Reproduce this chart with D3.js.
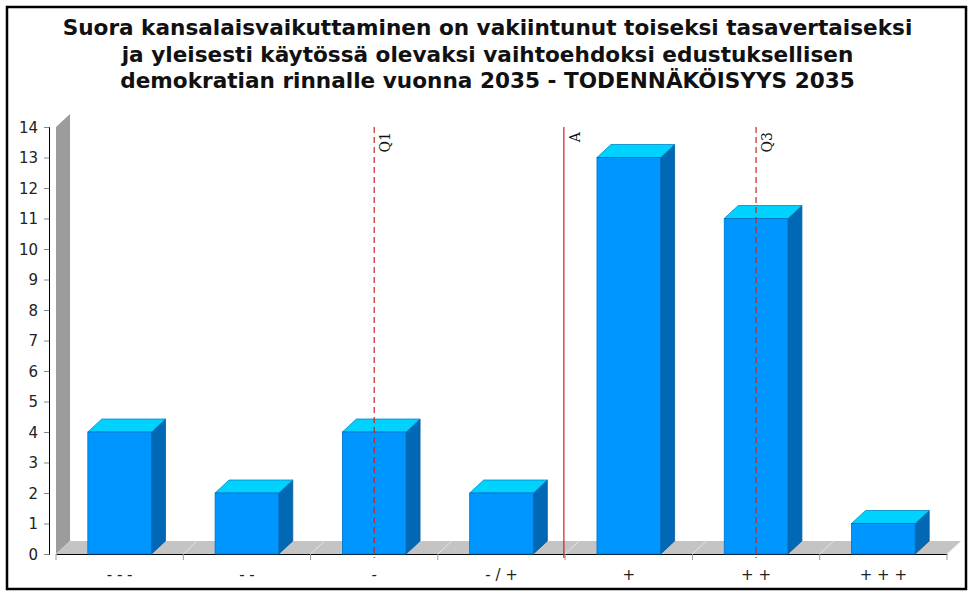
<!DOCTYPE html>
<html>
<head>
<meta charset="utf-8">
<script src="https://cdn.jsdelivr.net/npm/d3@7"></script>
<style>
  body { margin: 0; background: #fff; }
  text { font-family: "DejaVu Sans", sans-serif; }
</style>
</head>
<body>
<div id="chart"></div>
<script>
let titleLines = [
  "Suora kansalaisvaikuttaminen on vakiintunut toiseksi tasavertaiseksi",
  "ja yleisesti käytössä olevaksi vaihtoehdoksi edustuksellisen",
  "demokratian rinnalle vuonna 2035 - TODENNÄKÖISYYS 2035"
];
let categories = ["- - -", "- -", "-", "- / +", "+", "+ +", "+ + +"];
let counts = [4, 2, 4, 2, 13, 11, 1];
let yTicks = d3.range(0, 15);
let markerNames = ["Q1", "A", "Q3"];
let markerValues = [3, 4.49, 6];
let markerDashed = [true, false, true];

let width = 973, height = 597;
let plotLeft = 56, plotRight = 947, plotTop = 127, plotBottom = 554;
let dx = 14, dy = -13;

let svg = d3.select("#chart")
  .append("svg")
  .attr("width", width)
  .attr("height", height);

svg.append("rect")
  .attr("x", 7).attr("y", 7)
  .attr("width", 959).attr("height", 582)
  .style("fill", "white")
  .style("stroke", "black")
  .style("stroke-width", 2.5);

svg.append("g").selectAll("text")
  .data(titleLines)
  .join("text")
  .attr("x", width/2 + 1)
  .attr("y", (d, i) => 35 + i*26.5)
  .attr("text-anchor", "middle")
  .style("font-size", "21.6px")
  .style("font-weight", "bold")
  .style("fill", "#111")
  .text(d => d);

let x = d3.scaleBand()
  .domain(categories)
  .range([plotLeft, plotRight])
  .paddingInner(0.5)
  .paddingOuter(0.25);
let xPos = d3.scaleLinear().domain([0.5, 7.5]).range([plotLeft, plotRight]);
let y = d3.scaleLinear().domain([0, 14]).range([plotBottom, plotTop]);

// back wall and floor
svg.append("path")
  .attr("d", `M${plotLeft},${y(14)}L${plotLeft+dx},${y(14)+dy}L${plotLeft+dx},${y(0)+dy}L${plotLeft},${y(0)}Z`)
  .style("fill", "#9c9c9c");
svg.append("path")
  .attr("d", `M${plotLeft},${y(0)}L${plotRight},${y(0)}L${plotRight+dx},${y(0)+dy}L${plotLeft+dx},${y(0)+dy}Z`)
  .style("fill", "#c4c4c4");
let step = x.step();
svg.append("g").selectAll("line")
  .data(d3.range(1, categories.length + 1))
  .join("line")
  .attr("x1", i => plotLeft + i*step)
  .attr("x2", i => plotLeft + i*step + dx)
  .attr("y1", y(0))
  .attr("y2", y(0) + dy)
  .style("stroke", "#e4e4e4")
  .style("stroke-width", 1);

// y axis
let yAxis = svg.append("g")
  .attr("transform", "translate(49,0)")
  .call(d3.axisLeft(y).tickValues(yTicks).tickSize(5).tickPadding(6));
yAxis.select(".domain").style("stroke", "black");
yAxis.selectAll(".tick line").style("stroke", "#888");
yAxis.selectAll("text")
  .style("font-size", "15px")
  .style("fill", "#222")
  .attr("dy", "0.36em");

// x axis
let xAxis = svg.append("g")
  .attr("transform", `translate(0,${plotBottom})`)
  .call(d3.axisBottom(x).tickSize(0).tickPadding(15));
xAxis.select(".domain").style("stroke", "black");
xAxis.selectAll("text")
  .style("font-size", "15px")
  .style("fill", "#222");
svg.append("g").selectAll("line")
  .data(d3.range(0, categories.length + 1))
  .join("line")
  .attr("x1", i => plotLeft + i*step)
  .attr("x2", i => plotLeft + i*step)
  .attr("y1", plotBottom)
  .attr("y2", plotBottom + 6)
  .style("stroke", "#999");

// bars
let bars = svg.append("g").selectAll("g")
  .data(categories.map((c, i) => ({c: c, v: counts[i]})))
  .join("g");
bars.append("path")
  .attr("d", d => {
    let x1 = x(d.c) + x.bandwidth(), yt = y(d.v), yb = y(0);
    return `M${x1},${yb}L${x1+dx},${yb+dy}L${x1+dx},${yt+dy}L${x1},${yt}Z`;
  })
  .style("fill", "#0068b4")
  .style("stroke", "#005a9c")
  .style("stroke-width", 0.8);
bars.append("path")
  .attr("d", d => {
    let x0 = x(d.c), x1 = x0 + x.bandwidth(), yt = y(d.v);
    return `M${x0},${yt}L${x0+dx},${yt+dy}L${x1+dx},${yt+dy}L${x1},${yt}Z`;
  })
  .style("fill", "#00d2ff")
  .style("stroke", "#0088c8")
  .style("stroke-width", 0.8);
bars.append("rect")
  .attr("x", d => x(d.c))
  .attr("y", d => y(d.v))
  .attr("width", x.bandwidth())
  .attr("height", d => y(0) - y(d.v))
  .style("fill", "#0096ff")
  .style("stroke", "#0070c0")
  .style("stroke-width", 0.8);

// markers
let markers = svg.append("g").selectAll("g")
  .data(markerNames.map((n, i) => ({n: n, v: markerValues[i], dash: markerDashed[i]})))
  .join("g");
markers.append("line")
  .attr("x1", d => xPos(d.v))
  .attr("x2", d => xPos(d.v))
  .attr("y1", plotTop)
  .attr("y2", plotBottom + 4)
  .style("stroke", "#cc2222")
  .style("stroke-width", 1.2)
  .style("stroke-dasharray", d => d.dash ? "6,4" : null);
markers.append("text")
  .attr("transform", d => `translate(${xPos(d.v) + 16},${plotTop + 5}) rotate(-90)`)
  .attr("text-anchor", "end")
  .style("font-family", "'DejaVu Serif', serif")
  .style("font-size", "14px")
  .style("fill", "#111")
  .text(d => d.n);
</script>
</body>
</html>
